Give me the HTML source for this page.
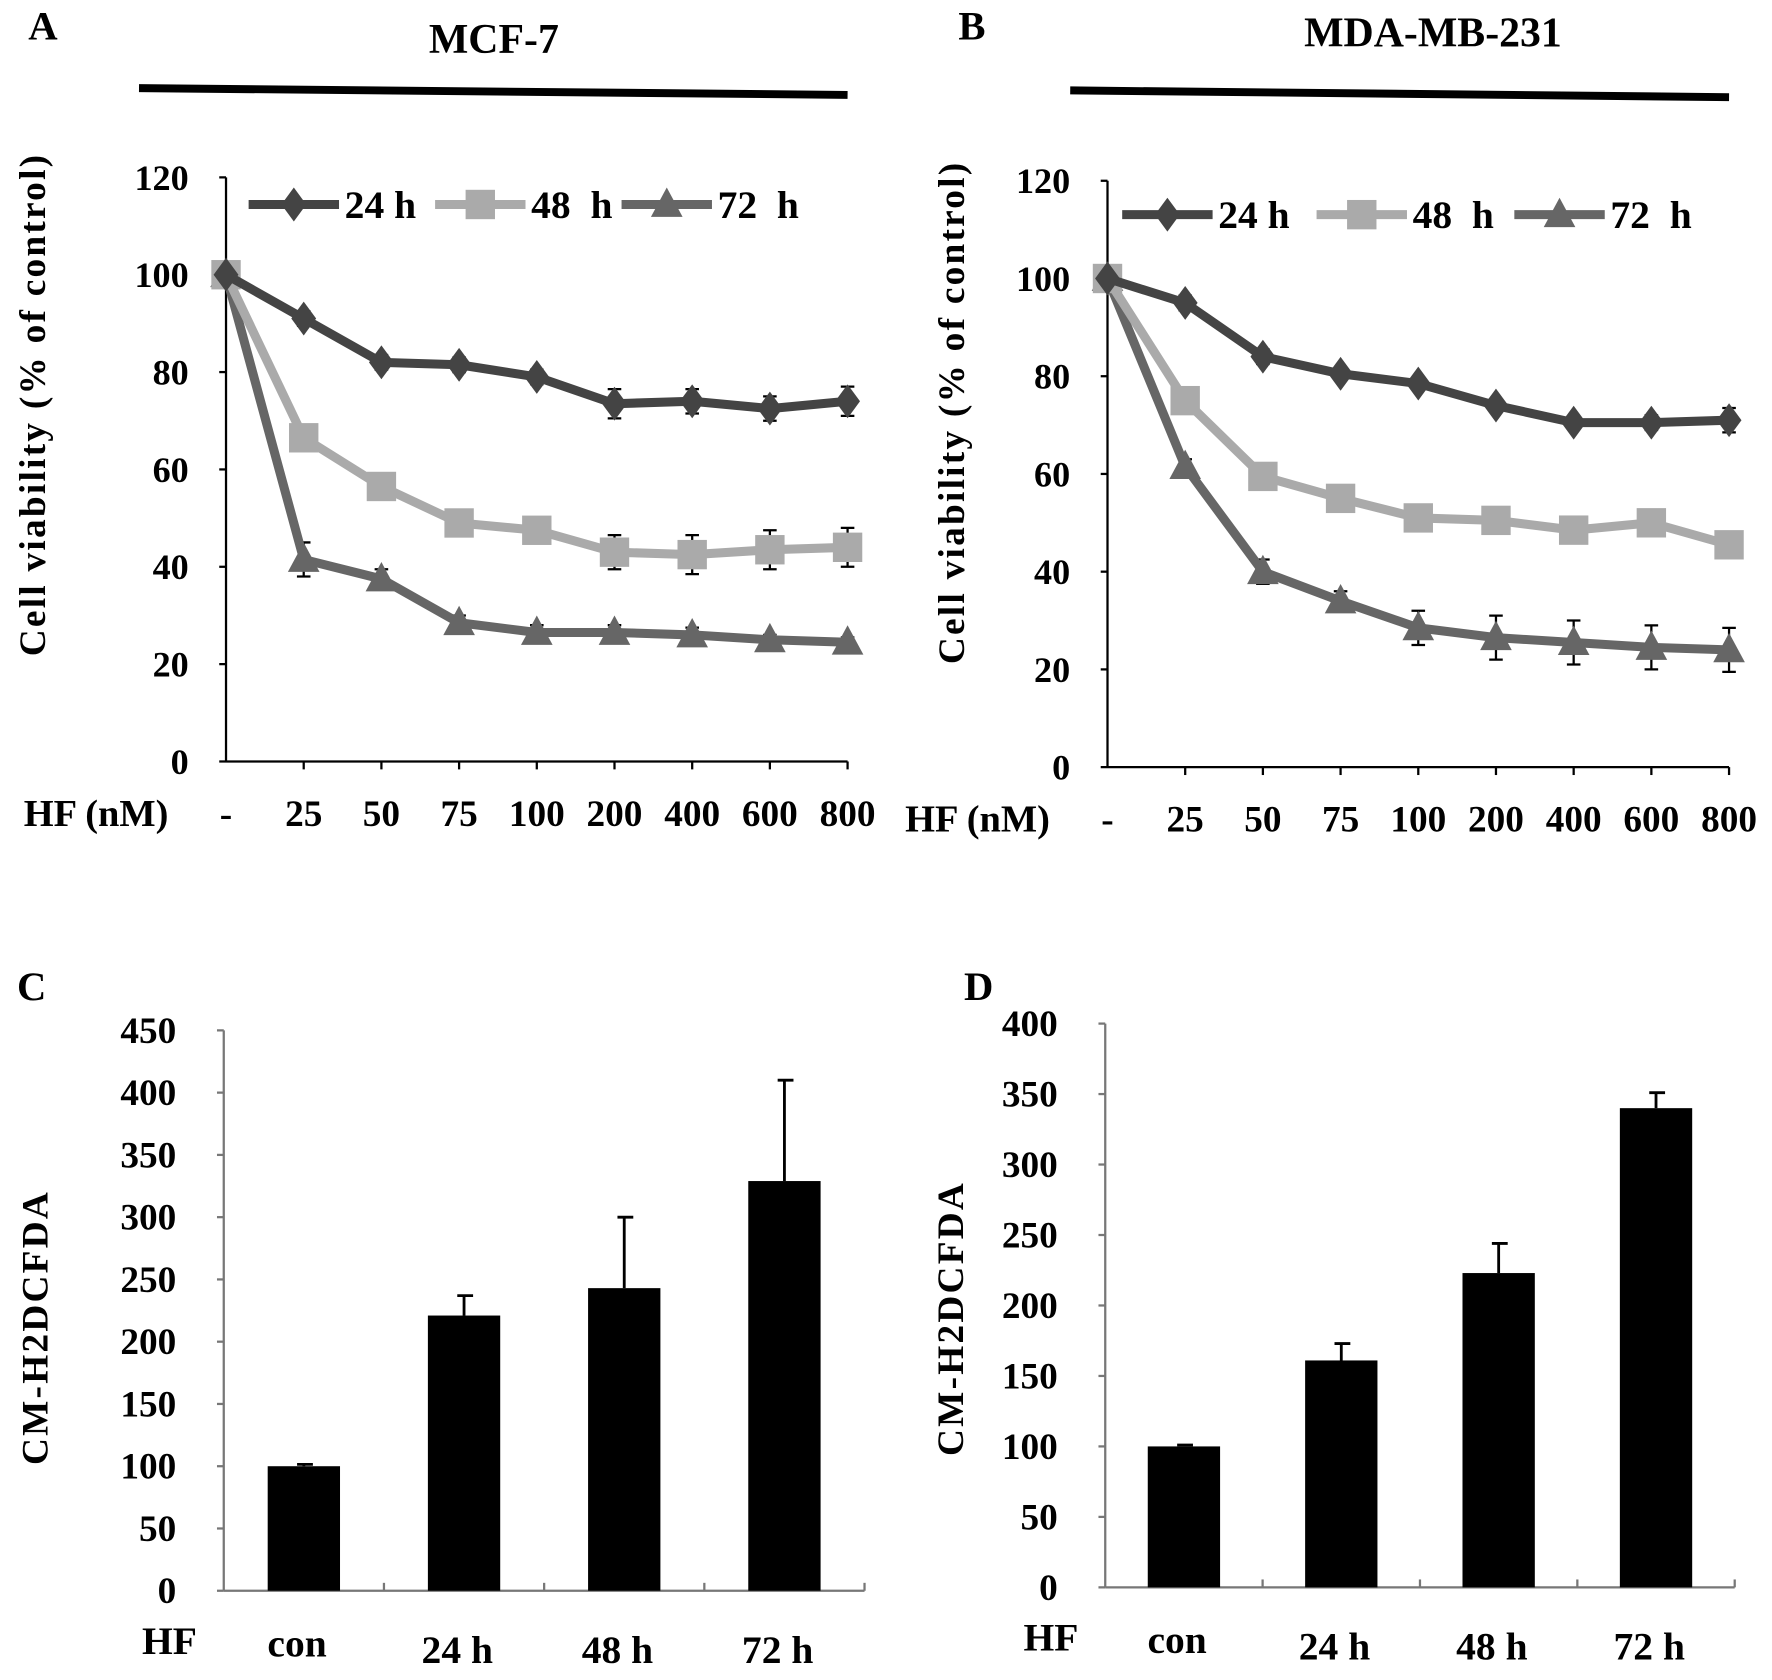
<!DOCTYPE html>
<html><head><meta charset="utf-8"><style>
html,body{margin:0;padding:0;background:#fff;}
svg{display:block;}
text{font-family:"Liberation Serif",serif;font-weight:bold;fill:#000;}
</style></head><body>
<svg id="fig" width="1772" height="1680" viewBox="0 0 1568 1487" preserveAspectRatio="none" xmlns="http://www.w3.org/2000/svg"></svg>
<script>
// ---- data ----
const doseLabels = ["-","25","50","75","100","200","400","600","800"];
const lineYTicks = [0,20,40,60,80,100,120];
const seriesNames = ["24 h","48\u00a0\u00a0h","72\u00a0\u00a0h"];
const mcf24 = [100,91,82,81.5,79,73.5,74,72.5,74];
const mcf48 = [100,66.5,56.5,49,47.5,43,42.5,43.5,44];
const mcf72 = [100,41.5,37.5,28.5,26.5,26.5,26,25,24.5];
const mcf24Err = [0,1.5,1.5,1.5,1.5,3,2.5,2.5,3];
const mcf48Err = [0,2,2,2,2,3.5,4,4,4];
const mcf72Err = [0,3.5,2,1.5,1.5,1.5,1.5,1,1];
const mda24 = [100,95,84,80.5,78.5,74,70.5,70.5,71];
const mda48 = [100,75,59.5,55,51,50.5,48.5,50,45.5];
const mda72 = [100,61.5,40,34,28.5,26.5,25.5,24.5,24];
const mda24Err = [0,1.5,1.5,1,1,1,1,1.5,2.5];
const mda48Err = [0,1.5,1.5,1.5,1.5,1.5,1.5,1.5,1.5];
const mda72Err = [0,1.5,2.5,2,3.5,4.5,4.5,4.5,4.5];
const barCats = ["con","24 h","48 h","72 h"];
const cVals = [100,221,243,329];
const cErr = [1.5,16,57,81];
const cTicks = [0,50,100,150,200,250,300,350,400,450];
const dVals = [100,161,223,340];
const dErr = [1,12,21,11];
const dTicks = [0,50,100,150,200,250,300,350,400];

const NS="http://www.w3.org/2000/svg";
const svg=document.getElementById('fig');
function el(tag,attrs,parent){const e=document.createElementNS(NS,tag);for(const k in attrs)e.setAttribute(k,attrs[k]);(parent||svg).appendChild(e);return e;}
function txt(s,x,y,size,anchor,parent){const t=el('text',{x:x,y:y,'font-size':size,'text-anchor':anchor||'middle'},parent);t.textContent=s;return t;}

function marker(type,cx,cy,color,g){
  let m;
  if(type===0) m=el('polygon',{points:`${cx},${cy-15} ${cx+11},${cy} ${cx},${cy+15} ${cx-11},${cy}`,fill:color},g);
  else if(type===1) m=el('rect',{x:cx-13,y:cy-13,width:26,height:26,fill:color},g);
  else m=el('polygon',{points:`${cx},${cy-15} ${cx+14},${cy+11} ${cx-14},${cy+11}`,fill:color},g);
  return m;
}

function linePanel(o){
  const g=el('g',{});
  
  
  const yS=v=>o.y0-(v/120)*(o.y0-o.y120);
  const xS=i=>o.x0+i*(o.x1-o.x0)/8;
  el('line',{x1:o.x0,y1:o.y120,x2:o.x0,y2:o.y0,stroke:'#000','stroke-width':2},g);
  el('line',{x1:o.x0,y1:o.y0,x2:o.x1,y2:o.y0,stroke:'#000','stroke-width':2},g);
  lineYTicks.forEach(v=>{
    el('line',{x1:o.x0-6,y1:yS(v),x2:o.x0,y2:yS(v),stroke:'#000','stroke-width':2},g);
    const t=txt(String(v),o.x0-33,yS(v)+11,32,'end',g);
    
  });
  doseLabels.forEach((d,i)=>{
    if(i>0) el('line',{x1:xS(i),y1:o.y0,x2:xS(i),y2:o.y0+7,stroke:'#000','stroke-width':2},g);
    const t=txt(d,xS(i),o.y0+57,33,'middle',g);
    
  });
  const hf=txt("HF (nM)",o.x0-115,o.y0+57,34,'middle',g);
  
  const colors=['#444','#aaa','#666'];
  [[o.s72,o.e72,2],[o.s48,o.e48,1],[o.s24,o.e24,0]].forEach(([s,e,k])=>{
    s.forEach((v,i)=>{ if(e[i]>0){
      const b=el('path',{d:`M${xS(i)},${yS(v+e[i])}V${yS(v-e[i])}M${xS(i)-6},${yS(v+e[i])}H${xS(i)+6}M${xS(i)-6},${yS(v-e[i])}H${xS(i)+6}`,stroke:'#000','stroke-width':2,fill:'none'},g);
      
    }});
    const p=el('polyline',{points:s.map((v,i)=>xS(i)+','+yS(v)).join(' '),fill:'none',stroke:colors[k],'stroke-width':8,'stroke-linejoin':'round'},g);
    
    s.forEach((v,i)=>{const m=marker(k,xS(i),yS(v),colors[k],g);
      });
  });
  const L=o.leg;
  seriesNames.forEach((n,k)=>{
    const lx=L.xs[k];
    const lg=el('g',{},g);
    
    
    el('line',{x1:lx,y1:L.y,x2:lx+80,y2:L.y,stroke:colors[k],'stroke-width':8},lg);
    marker(k,lx+40,L.y,colors[k],lg);
    txt(n,lx+85,L.y+12,35,'start',lg);
  });
  const yl=txt("Cell viability (% of control)",0,0,33,'middle',g);
  yl.setAttribute('transform',`translate(${o.ylx},${o.yly}) rotate(-90)`);
  yl.setAttribute('letter-spacing','2');
  
  const tt=txt(o.title,o.tx,o.ty,37,'middle',g);
  
  const hl=el('line',{x1:o.hx0,y1:o.hy0,x2:o.hx1,y2:o.hy1,stroke:'#000','stroke-width':7},g);
  
  const lt=txt(o.letter,o.lx,o.ly,36,'middle',g);
  
}

function barPanel(o){
  const g=el('g',{});
  
  
  const yS=v=>o.y0-(v/o.max)*(o.y0-o.yTop);
  el('line',{x1:o.x0,y1:o.yTop,x2:o.x0,y2:o.y0,stroke:'#777','stroke-width':2},g);
  el('line',{x1:o.x0,y1:o.y0,x2:o.x1,y2:o.y0,stroke:'#777','stroke-width':2},g);
  o.ticks.forEach(v=>{
    el('line',{x1:o.x0-6,y1:yS(v),x2:o.x0,y2:yS(v),stroke:'#777','stroke-width':2},g);
    const t=txt(String(v),o.x0-42,yS(v)+11,33,'end',g);
    
  });
  const step=(o.x1-o.x0)/4;
  for(let i=1;i<=4;i++) el('line',{x1:o.x0+i*step,y1:o.y0,x2:o.x0+i*step,y2:o.y0-7,stroke:'#777','stroke-width':2},g);
  barCats.forEach((c,i)=>{
    const cx=o.x0+(i+0.5)*step;
    const r=el('rect',{x:cx-32,y:yS(o.vals[i]),width:64,height:o.y0-yS(o.vals[i]),fill:'#000'},g);
    
    const top=yS(o.vals[i]+o.err[i]);
    const e=el('path',{d:`M${cx},${yS(o.vals[i])}V${top}M${cx-6},${top}H${cx+8}`,stroke:'#000','stroke-width':2.5,fill:'none'},g);
    
    const t=txt(c,cx-6,o.y0+(i===0?58:64),35,'middle',g);
    
  });
  const hf=txt("HF",o.x0-48,o.y0+56,35,'middle',g);
  
  const yl=txt("CM-H2DCFDA",0,0,33,'middle',g);
  yl.setAttribute('transform',`translate(${o.ylx},${o.yly}) rotate(-90)`);
  yl.setAttribute('letter-spacing','2');
  
  const lt=txt(o.letter,o.lx,o.ly,36,'middle',g);
  
}

linePanel({name:'panel-a-mcf7',x0:200,x1:750,y0:674,y120:157,s24:mcf24,s48:mcf48,s72:mcf72,e24:mcf24Err,e48:mcf48Err,e72:mcf72Err,
  leg:{y:181,xs:[220,385,550]},ylx:40,yly:358,title:"MCF-7",tx:437,ty:47,hx0:123,hy0:78,hx1:750,hy1:84,letter:"A",lx:38,ly:35});
linePanel({name:'panel-b-mda-mb-231',x0:980,x1:1530,y0:679,y120:160,s24:mda24,s48:mda48,s72:mda72,e24:mda24Err,e48:mda48Err,e72:mda72Err,
  leg:{y:190,xs:[993,1165,1340]},ylx:853,yly:365,title:"MDA-MB-231",tx:1268,ty:41,hx0:947,hy0:80,hx1:1530,hy1:86,letter:"B",lx:860,ly:35});
barPanel({name:'panel-c',x0:198,x1:765,y0:1408,yTop:912,max:450,ticks:cTicks,vals:cVals,err:cErr,ylx:42,yly:1175,letter:"C",lx:28,ly:885});
barPanel({name:'panel-d',x0:978,x1:1535,y0:1405,yTop:906,max:400,ticks:dTicks,vals:dVals,err:dErr,ylx:852,yly:1167,letter:"D",lx:866,ly:885});
</script>
</body></html>
